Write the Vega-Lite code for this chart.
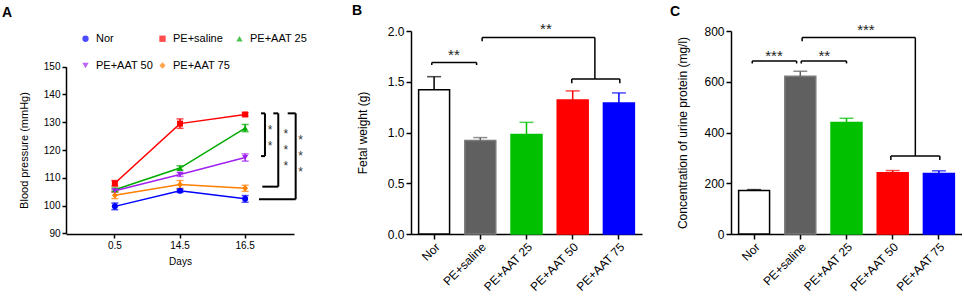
{
  "$schema": "https://vega.github.io/schema/vega-lite/v6.json",
  "padding": {"left": 2, "top": 4, "right": 0, "bottom": 0},
  "bounds": "flush",
  "spacing": 89,
  "config": {
    "font": "Liberation Sans",
    "view": {"stroke": null},
    "axis": {"grid": false, "labelOverlap": false, "domainColor": "#000", "domainWidth": 1.5, "tickColor": "#000", "tickWidth": 1.5, "tickSize": 5, "labelColor": "#000", "titleColor": "#000", "titleFontWeight": "normal", "labelFont": "Liberation Sans", "titleFont": "Liberation Sans"},
    "title": {"fontSize": 14, "fontWeight": "bold", "anchor": "start", "frame": "group", "color": "#000", "font": "Liberation Sans"}
  },
  "resolve": {"scale": {"color": "independent", "fill": "independent", "stroke": "independent", "shape": "independent"}},
  "datasets": {
    "bp": [
      {"group": "Nor", "day": 0.5, "bp": 99.7, "err": 1.2},
      {"group": "Nor", "day": 14.5, "bp": 105.3, "err": 0.6},
      {"group": "Nor", "day": 16.5, "bp": 102.4, "err": 1.2},
      {"group": "PE+saline", "day": 0.5, "bp": 108.0, "err": 1.0},
      {"group": "PE+saline", "day": 14.5, "bp": 129.5, "err": 1.7},
      {"group": "PE+saline", "day": 16.5, "bp": 132.8, "err": 0.6},
      {"group": "PE+AAT 25", "day": 0.5, "bp": 105.7, "err": 0.6},
      {"group": "PE+AAT 25", "day": 14.5, "bp": 113.5, "err": 0.8},
      {"group": "PE+AAT 25", "day": 16.5, "bp": 127.9, "err": 1.3},
      {"group": "PE+AAT 50", "day": 0.5, "bp": 105.3, "err": 0.5},
      {"group": "PE+AAT 50", "day": 14.5, "bp": 111.2, "err": 0.7},
      {"group": "PE+AAT 50", "day": 16.5, "bp": 117.3, "err": 1.3},
      {"group": "PE+AAT 75", "day": 0.5, "bp": 103.7, "err": 1.2},
      {"group": "PE+AAT 75", "day": 14.5, "bp": 107.6, "err": 1.4},
      {"group": "PE+AAT 75", "day": 16.5, "bp": 106.2, "err": 1.1}
    ],
    "bracketsA": [
      {"x1": 2.066, "x2": 2.118, "y1": 133.2, "y2": 133.2},
      {"x1": 2.118, "x2": 2.118, "y1": 133.2, "y2": 117.8},
      {"x1": 2.066, "x2": 2.118, "y1": 117.8, "y2": 117.8},
      {"x1": 2.228, "x2": 2.293, "y1": 133.2, "y2": 133.2},
      {"x1": 2.293, "x2": 2.293, "y1": 133.2, "y2": 106.8},
      {"x1": 2.083, "x2": 2.293, "y1": 106.8, "y2": 106.8},
      {"x1": 2.417, "x2": 2.522, "y1": 133.2, "y2": 133.2},
      {"x1": 2.522, "x2": 2.522, "y1": 133.2, "y2": 102.25},
      {"x1": 2.039, "x2": 2.522, "y1": 102.25, "y2": 102.25}
    ],
    "starsA": [
      {"x": 2.184, "y": 128.4, "t": "*"},
      {"x": 2.184, "y": 122.4, "t": "*"},
      {"x": 2.391, "y": 127.0, "t": "*"},
      {"x": 2.391, "y": 121.0, "t": "*"},
      {"x": 2.391, "y": 115.2, "t": "*"},
      {"x": 2.588, "y": 124.6, "t": "*"},
      {"x": 2.588, "y": 118.8, "t": "*"},
      {"x": 2.588, "y": 113.05, "t": "*"}
    ],
    "fetal": [
      {"group": "Nor", "value": 1.42, "upper": 1.55},
      {"group": "PE+saline", "value": 0.92, "upper": 0.95},
      {"group": "PE+AAT 25", "value": 0.98, "upper": 1.10},
      {"group": "PE+AAT 50", "value": 1.32, "upper": 1.41},
      {"group": "PE+AAT 75", "value": 1.29, "upper": 1.39}
    ],
    "bracketsB": [
      {"x1": -0.05, "x2": 0.92, "y1": 1.69, "y2": 1.69},
      {"x1": -0.05, "x2": -0.05, "y1": 1.69, "y2": 1.665},
      {"x1": 0.92, "x2": 0.92, "y1": 1.69, "y2": 1.665},
      {"x1": 1.04, "x2": 1.04, "y1": 1.935, "y2": 1.90},
      {"x1": 1.04, "x2": 3.48, "y1": 1.935, "y2": 1.935},
      {"x1": 3.48, "x2": 3.48, "y1": 1.935, "y2": 1.527},
      {"x1": 2.98, "x2": 4.02, "y1": 1.527, "y2": 1.527},
      {"x1": 2.98, "x2": 2.98, "y1": 1.527, "y2": 1.485},
      {"x1": 4.02, "x2": 4.02, "y1": 1.527, "y2": 1.485}
    ],
    "starsB": [
      {"x": 0.43, "y": 1.80, "t": "**"},
      {"x": 2.42, "y": 2.055, "t": "**"}
    ],
    "urine": [
      {"group": "Nor", "value": 171, "upper": 175},
      {"group": "PE+saline", "value": 622, "upper": 641},
      {"group": "PE+AAT 25", "value": 439, "upper": 456},
      {"group": "PE+AAT 50", "value": 241, "upper": 250},
      {"group": "PE+AAT 75", "value": 238, "upper": 249}
    ],
    "bracketsC": [
      {"x1": -0.04, "x2": 0.92, "y1": 682, "y2": 682},
      {"x1": -0.04, "x2": -0.04, "y1": 682, "y2": 672},
      {"x1": 0.92, "x2": 0.92, "y1": 682, "y2": 672},
      {"x1": 1.02, "x2": 2.0, "y1": 682, "y2": 682},
      {"x1": 1.02, "x2": 1.02, "y1": 682, "y2": 672},
      {"x1": 2.0, "x2": 2.0, "y1": 682, "y2": 672},
      {"x1": 1.04, "x2": 1.04, "y1": 774, "y2": 760},
      {"x1": 1.04, "x2": 3.49, "y1": 774, "y2": 774},
      {"x1": 3.49, "x2": 3.49, "y1": 774, "y2": 307},
      {"x1": 2.96, "x2": 4.02, "y1": 307, "y2": 307},
      {"x1": 2.96, "x2": 2.96, "y1": 307, "y2": 292},
      {"x1": 4.02, "x2": 4.02, "y1": 307, "y2": 292}
    ],
    "starsC": [
      {"x": 0.43, "y": 718, "t": "***"},
      {"x": 1.52, "y": 718, "t": "**"},
      {"x": 2.42, "y": 820, "t": "***"}
    ]
  },
  "hconcat": [
    {
      "width": 256,
      "height": 203,
      "title": {"text": "A", "dx": -64, "offset": 11},
      "resolve": {"scale": {"x": "independent"}},
      "layer": [
        {
          "data": {"name": "bp"},
          "encoding": {
            "x": {"field": "day", "type": "ordinal", "title": "Days", "scale": {"range": [0, 228], "padding": 0.5}, "axis": {"labelAngle": 0, "labelFontSize": 10, "titleFontSize": 10, "titlePadding": 6, "tickSize": 4}},
            "y": {"field": "bp", "type": "quantitative", "title": "Blood pressure (mmHg)", "scale": {"domain": [90, 150], "range": [202.3, 35.7], "nice": false, "zero": false}, "axis": {"values": [90, 100, 110, 120, 130, 140, 150], "labelOverlap": false, "labelFontSize": 10, "titleFontSize": 11, "titlePadding": 14, "tickSize": 4}},
            "color": {"field": "group", "type": "nominal", "scale": {"domain": ["Nor", "PE+saline", "PE+AAT 25", "PE+AAT 50", "PE+AAT 75"], "range": ["#0000ff", "#ff0000", "#00aa00", "#a020f0", "#ff7f00"]}, "legend": {"orient": "none", "legendX": 14, "legendY": 2, "direction": "horizontal", "columns": 3, "title": null, "labelFontSize": 11, "symbolSize": 40, "rowPadding": 15, "columnPadding": 4, "labelOffset": 5, "symbolStrokeWidth": 0}}
          },
          "layer": [
            {"mark": {"type": "line", "strokeWidth": 1.5}},
            {"mark": {"type": "errorbar", "ticks": true, "size": 7, "thickness": 1.5}, "encoding": {"yError": {"field": "err"}}},
            {"mark": {"type": "point", "filled": true, "size": 36, "opacity": 1}, "encoding": {"shape": {"field": "group", "type": "nominal", "scale": {"domain": ["Nor", "PE+saline", "PE+AAT 25", "PE+AAT 50", "PE+AAT 75"], "range": ["circle", "square", "triangle-up", "triangle-down", "diamond"]}, "legend": {"orient": "none", "legendX": 14, "legendY": 2, "direction": "horizontal", "columns": 3, "title": null, "labelFontSize": 11, "symbolSize": 40, "rowPadding": 15, "columnPadding": 4, "labelOffset": 5, "symbolStrokeWidth": 0}}}}
          ]
        },
        {
          "data": {"name": "bracketsA"},
          "mark": {"type": "rule", "strokeWidth": 2, "color": "#000"},
          "encoding": {
            "x": {"field": "x1", "type": "quantitative", "scale": {"domain": [-0.5, 2.5], "range": [0, 228], "nice": false, "zero": false}, "axis": null},
            "x2": {"field": "x2"},
            "y": {"field": "y1", "type": "quantitative", "title": "Blood pressure (mmHg)", "axis": {"values": [90, 100, 110, 120, 130, 140, 150], "labelOverlap": false, "labelFontSize": 10, "titleFontSize": 11, "titlePadding": 14, "tickSize": 4}},
            "y2": {"field": "y2"}
          }
        },
        {
          "data": {"name": "starsA"},
          "mark": {"type": "text", "fontSize": 12, "color": "#333", "dy": 3},
          "encoding": {
            "x": {"field": "x", "type": "quantitative", "scale": {"domain": [-0.5, 2.5], "range": [0, 228], "nice": false, "zero": false}, "axis": null},
            "y": {"field": "y", "type": "quantitative", "title": "Blood pressure (mmHg)", "axis": {"values": [90, 100, 110, 120, 130, 140, 150], "labelOverlap": false, "labelFontSize": 10, "titleFontSize": 11, "titlePadding": 14, "tickSize": 4}},
            "text": {"field": "t"}
          }
        }
      ]
    },
    {
      "width": 231,
      "height": 203,
      "title": {"text": "B", "dx": -59, "offset": 4},
      "resolve": {"scale": {"x": "independent"}},
      "layer": [
        {
          "data": {"name": "fetal"},
          "encoding": {
            "x": {"field": "group", "type": "nominal", "sort": ["Nor", "PE+saline", "PE+AAT 25", "PE+AAT 50", "PE+AAT 75"], "title": null, "scale": {"paddingInner": 0.33, "paddingOuter": 0.165}, "axis": {"labelAngle": -45, "labelFontSize": 12, "tickSize": 5}}
          },
          "layer": [
            {"mark": {"type": "bar", "strokeWidth": 1.5},
             "encoding": {
               "y": {"field": "value", "type": "quantitative", "title": "Fetal weight (g)", "scale": {"domain": [0, 2], "nice": false}, "axis": {"values": [0, 0.5, 1, 1.5, 2], "format": ".1f", "labelFontSize": 12, "titleFontSize": 12, "titlePadding": 18}},
               "fill": {"field": "group", "type": "nominal", "scale": {"domain": ["Nor", "PE+saline", "PE+AAT 25", "PE+AAT 50", "PE+AAT 75"], "range": ["#ffffff", "#606060", "#00c000", "#ff0000", "#0000ff"]}, "legend": null},
               "stroke": {"field": "group", "type": "nominal", "scale": {"domain": ["Nor", "PE+saline", "PE+AAT 25", "PE+AAT 50", "PE+AAT 75"], "range": ["#000000", "#7a7a7a", "#00c000", "#ff0000", "#0000ff"]}, "legend": null}
             }},
            {"mark": {"type": "rule", "strokeWidth": 1.5},
             "encoding": {
               "y": {"field": "value", "type": "quantitative", "title": "Fetal weight (g)"},
               "y2": {"field": "upper"},
               "color": {"field": "group", "type": "nominal", "scale": {"domain": ["Nor", "PE+saline", "PE+AAT 25", "PE+AAT 50", "PE+AAT 75"], "range": ["#000000", "#606060", "#00c000", "#ff0000", "#0000ff"]}, "legend": null}
             }},
            {"mark": {"type": "tick", "size": 14, "thickness": 1.5},
             "encoding": {
               "y": {"field": "upper", "type": "quantitative", "title": "Fetal weight (g)"},
               "color": {"field": "group", "type": "nominal", "scale": {"domain": ["Nor", "PE+saline", "PE+AAT 25", "PE+AAT 50", "PE+AAT 75"], "range": ["#000000", "#606060", "#00c000", "#ff0000", "#0000ff"]}, "legend": null}
             }}
          ]
        },
        {
          "data": {"name": "bracketsB"},
          "mark": {"type": "rule", "strokeWidth": 1.5, "color": "#000"},
          "encoding": {
            "x": {"field": "x1", "type": "quantitative", "scale": {"domain": [-0.5, 4.5], "nice": false, "zero": false}, "axis": null},
            "x2": {"field": "x2"},
            "y": {"field": "y1", "type": "quantitative", "title": "Fetal weight (g)"},
            "y2": {"field": "y2"}
          }
        },
        {
          "data": {"name": "starsB"},
          "mark": {"type": "text", "fontSize": 15, "color": "#222", "dy": 4},
          "encoding": {
            "x": {"field": "x", "type": "quantitative", "scale": {"domain": [-0.5, 4.5], "nice": false, "zero": false}, "axis": null},
            "y": {"field": "y", "type": "quantitative", "title": "Fetal weight (g)"},
            "text": {"field": "t"}
          }
        }
      ]
    },
    {
      "width": 231,
      "height": 203,
      "title": {"text": "C", "dx": -61, "offset": 4},
      "resolve": {"scale": {"x": "independent"}},
      "layer": [
        {
          "data": {"name": "urine"},
          "encoding": {
            "x": {"field": "group", "type": "nominal", "sort": ["Nor", "PE+saline", "PE+AAT 25", "PE+AAT 50", "PE+AAT 75"], "title": null, "scale": {"paddingInner": 0.33, "paddingOuter": 0.165}, "axis": {"labelAngle": -45, "labelFontSize": 12, "tickSize": 5}}
          },
          "layer": [
            {"mark": {"type": "bar", "strokeWidth": 1.5},
             "encoding": {
               "y": {"field": "value", "type": "quantitative", "title": "Concentration of urine protein (mg/l)", "scale": {"domain": [0, 800], "nice": false}, "axis": {"values": [0, 200, 400, 600, 800], "labelFontSize": 12, "titleFontSize": 12, "titlePadding": 14}},
               "fill": {"field": "group", "type": "nominal", "scale": {"domain": ["Nor", "PE+saline", "PE+AAT 25", "PE+AAT 50", "PE+AAT 75"], "range": ["#ffffff", "#606060", "#00c000", "#ff0000", "#0000ff"]}, "legend": null},
               "stroke": {"field": "group", "type": "nominal", "scale": {"domain": ["Nor", "PE+saline", "PE+AAT 25", "PE+AAT 50", "PE+AAT 75"], "range": ["#000000", "#7a7a7a", "#00c000", "#ff0000", "#0000ff"]}, "legend": null}
             }},
            {"mark": {"type": "rule", "strokeWidth": 1.5},
             "encoding": {
               "y": {"field": "value", "type": "quantitative", "title": "Concentration of urine protein (mg/l)"},
               "y2": {"field": "upper"},
               "color": {"field": "group", "type": "nominal", "scale": {"domain": ["Nor", "PE+saline", "PE+AAT 25", "PE+AAT 50", "PE+AAT 75"], "range": ["#000000", "#606060", "#00c000", "#ff0000", "#0000ff"]}, "legend": null}
             }},
            {"mark": {"type": "tick", "size": 14, "thickness": 1.5},
             "encoding": {
               "y": {"field": "upper", "type": "quantitative", "title": "Concentration of urine protein (mg/l)"},
               "color": {"field": "group", "type": "nominal", "scale": {"domain": ["Nor", "PE+saline", "PE+AAT 25", "PE+AAT 50", "PE+AAT 75"], "range": ["#000000", "#606060", "#00c000", "#ff0000", "#0000ff"]}, "legend": null}
             }}
          ]
        },
        {
          "data": {"name": "bracketsC"},
          "mark": {"type": "rule", "strokeWidth": 1.5, "color": "#000"},
          "encoding": {
            "x": {"field": "x1", "type": "quantitative", "scale": {"domain": [-0.5, 4.5], "nice": false, "zero": false}, "axis": null},
            "x2": {"field": "x2"},
            "y": {"field": "y1", "type": "quantitative", "title": "Concentration of urine protein (mg/l)"},
            "y2": {"field": "y2"}
          }
        },
        {
          "data": {"name": "starsC"},
          "mark": {"type": "text", "fontSize": 15, "color": "#222", "dy": 4},
          "encoding": {
            "x": {"field": "x", "type": "quantitative", "scale": {"domain": [-0.5, 4.5], "nice": false, "zero": false}, "axis": null},
            "y": {"field": "y", "type": "quantitative", "title": "Concentration of urine protein (mg/l)"},
            "text": {"field": "t"}
          }
        }
      ]
    }
  ]
}
